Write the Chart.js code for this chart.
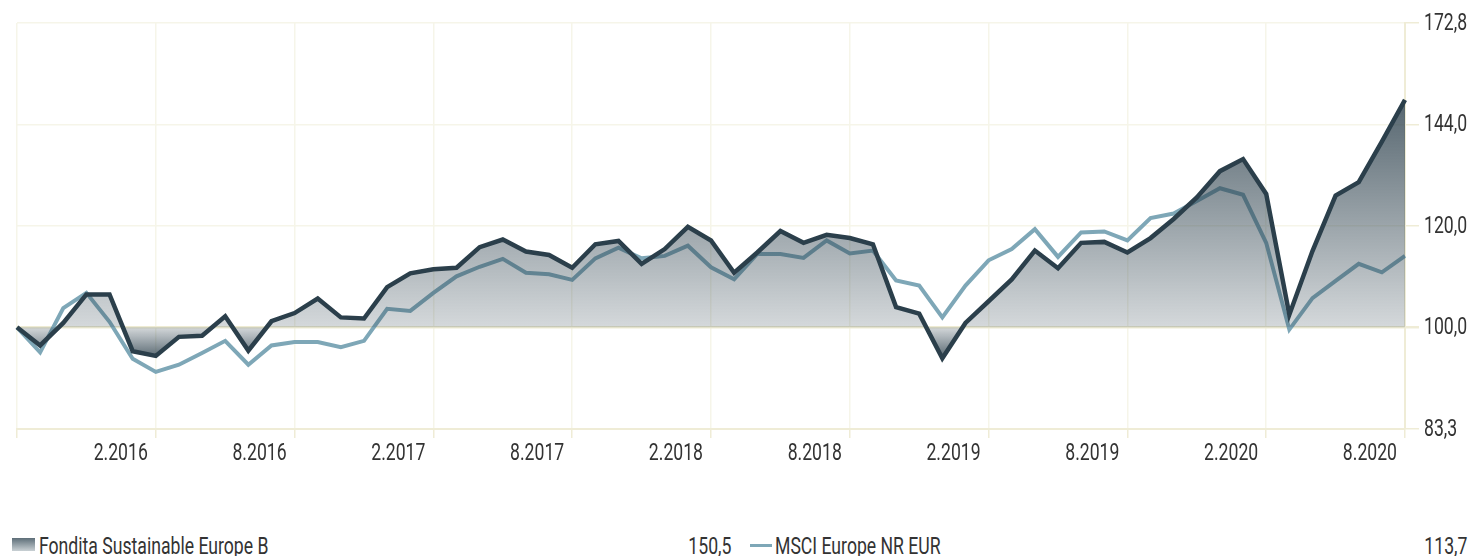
<!DOCTYPE html>
<html>
<head>
<meta charset="utf-8">
<script src="https://cdn.jsdelivr.net/npm/chart.js@4.4.0/dist/chart.umd.min.js"></script>
<style>
  body { margin: 0; background: #fff; }
  #wrap { position: absolute; left: 0; top: 0; width: 1469px; height: 470px; }
  .legend { position: absolute; top: 532px; height: 28px; font-family: Roboto, sans-serif; font-weight: 400; font-size: 23.5px; color: #333; line-height: 28px; white-space: nowrap; }
  .legend .sw { position: absolute; }
  .legend .name { position: absolute; transform: scaleX(0.75); transform-origin: left center; }
  .legend .val { position: absolute; transform: scaleX(0.75); transform-origin: right center; }
</style>
</head>
<body>
<div id="wrap"><canvas id="myChart"></canvas></div>
<div class="legend" id="leg1" style="left:0;width:731px">
  <div class="sw" style="left:12px;top:6px;width:23px;height:13px;background:linear-gradient(#5d6e78,#c9d0d4)"></div>
  <span class="name" style="left:39px"></span>
  <span class="val" style="right:0"></span>
</div>
<div class="legend" id="leg2" style="left:731px;width:736px">
  <div class="sw" style="left:19px;top:12px;width:22px;height:3px;background:#7ea7b7"></div>
  <span class="name" style="left:44px"></span>
  <span class="val" style="right:0"></span>
</div>
<script>
var months = ['8.2015','9.2015','10.2015','11.2015','12.2015','1.2016','2.2016','3.2016','4.2016','5.2016','6.2016','7.2016',
  '8.2016','9.2016','10.2016','11.2016','12.2016','1.2017','2.2017','3.2017','4.2017','5.2017','6.2017','7.2017',
  '8.2017','9.2017','10.2017','11.2017','12.2017','1.2018','2.2018','3.2018','4.2018','5.2018','6.2018','7.2018',
  '8.2018','9.2018','10.2018','11.2018','12.2018','1.2019','2.2019','3.2019','4.2019','5.2019','6.2019','7.2019',
  '8.2019','9.2019','10.2019','11.2019','12.2019','1.2020','2.2020','3.2020','4.2020','5.2020','6.2020','7.2020','8.2020'];

var fundName = 'Fondita Sustainable Europe B';
var fundValues = [100.0, 96.8, 100.8, 106.1, 106.1, 95.8, 95.0, 98.3, 98.5, 102.0, 95.9, 101.1,
  102.6, 105.3, 101.8, 101.6, 107.5, 110.2, 111.0, 111.3, 115.5, 117.1, 114.6, 113.9,
  111.3, 116.1, 116.8, 112.1, 115.1, 119.8, 116.9, 110.3, 114.4, 118.9, 116.4, 118.1,
  117.4, 116.1, 103.7, 102.5, 94.6, 100.8, 104.8, 109.0, 114.8, 111.2, 116.4, 116.6,
  114.4, 117.4, 121.5, 126.3, 132.4, 135.3, 127.1, 102.3, 114.7, 126.7, 129.8, 139.6, 150.5];

var benchName = 'MSCI Europe NR EUR';
var benchValues = [100.0, 95.6, 103.5, 106.4, 101.0, 94.5, 92.3, 93.5, 95.5, 97.6, 93.5, 96.8,
  97.4, 97.4, 96.5, 97.6, 103.4, 103.0, 106.4, 109.6, 111.5, 113.1, 110.3, 110.0,
  108.9, 113.2, 115.4, 113.2, 113.7, 115.8, 111.4, 109.0, 114.1, 114.1, 113.3, 116.9,
  114.2, 114.8, 108.8, 107.8, 101.8, 107.8, 112.8, 115.1, 119.3, 113.5, 118.6, 118.8,
  116.9, 121.7, 122.7, 125.5, 128.4, 126.9, 116.4, 99.6, 105.4, 108.7, 112.1, 110.4, 113.7];

var yTicks = [83.3, 100.0, 120.0, 144.0, 172.8];
var baseValue = 100;
var labelEvery = 6;

function fmt(v) { return v.toFixed(1).replace('.', ','); }

function fundFill(c) {
  var chart = c.chart;
  if (!chart.chartArea) return 'rgba(43,63,75,0.3)';
  var y = chart.scales.y;
  var top = y.getPixelForValue(Math.max.apply(null, fundValues));
  var base = y.getPixelForValue(baseValue);
  var bot = y.getPixelForValue(Math.min.apply(null, fundValues));
  var g = chart.ctx.createLinearGradient(0, top, 0, bot);
  var p = (base - top) / (bot - top);
  g.addColorStop(0, 'rgba(43,63,75,0.8)');
  g.addColorStop(p, 'rgba(43,63,75,0.2)');
  g.addColorStop(1, 'rgba(43,63,75,0.8)');
  return g;
}

// tick labels drawn narrow (condensed look) at the scales' own tick positions
var narrowLabels = {
  id: 'narrowLabels',
  afterDraw: function (chart) {
    var c = chart.ctx;
    var xs = chart.scales.x, ys = chart.scales.y;
    c.save();
    c.fillStyle = '#333';
    c.font = '400 23.5px Roboto, sans-serif';
    c.textBaseline = 'alphabetic';
    c.textAlign = 'right';
    xs.ticks.forEach(function (t, i) {
      if (!t.label) return;
      c.save();
      c.translate(xs.getPixelForTick(i) - 8, xs.top + 31);
      c.scale(0.75, 1);
      c.fillText(t.label, 0, 0);
      c.restore();
    });
    c.textAlign = 'left';
    ys.ticks.forEach(function (t, i) {
      c.save();
      c.translate(ys.left + 19, ys.getPixelForTick(i) + 7);
      c.scale(0.75, 1);
      c.fillText(t.label, 0, 0);
      c.restore();
    });
    c.restore();
  }
};

var ctx = document.getElementById('myChart').getContext('2d');
var myChart = new Chart(ctx, {
  type: 'line',
  data: {
    labels: months,
    datasets: [{
      label: fundName,
      data: fundValues,
      borderColor: '#2b3f4b',
      borderWidth: 4.5,
      backgroundColor: fundFill,
      fill: { value: baseValue },
      pointRadius: 0,
      tension: 0
    }, {
      label: benchName,
      data: benchValues,
      borderColor: '#7ea7b7',
      borderWidth: 4,
      fill: false,
      pointRadius: 0,
      tension: 0
    }]
  },
  options: {
    responsive: true,
    maintainAspectRatio: false,
    animation: false,
    layout: { padding: { left: 17, top: 23, right: 0, bottom: 0 } },
    plugins: {
      legend: { display: false },
      tooltip: { enabled: false }
    },
    scales: {
      x: {
        afterFit: function (s) { s.height = 41; },
        grid: {
          color: function (c) { return c.index % labelEvery === 0 ? '#f6f5e9' : 'rgba(0,0,0,0)'; },
          tickColor: function (c) { return c.index % labelEvery === 0 ? '#efecd6' : 'rgba(0,0,0,0)'; },
          tickLength: 9,
          lineWidth: 1.5
        },
        border: { color: '#efecd6', width: 2 },
        ticks: {
          display: false,
          autoSkip: false,
          maxRotation: 0,
          callback: function (v, i) {
            return (i % labelEvery === 0 && i > 0) ? months[i] : '';
          }
        }
      },
      y: {
        type: 'logarithmic',
        position: 'right',
        min: yTicks[0],
        max: yTicks[yTicks.length - 1],
        afterFit: function (s) { s.width = 64; },
        afterBuildTicks: function (s) {
          s.ticks = yTicks.map(function (v) { return { value: v }; });
        },
        grid: {
          color: function (c) { return c.tick && c.tick.value === baseValue ? '#eeebd3' : '#f6f5e9'; },
          lineWidth: function (c) { return c.tick && c.tick.value === baseValue ? 2.5 : 1.5; },
          tickColor: '#efecd6',
          tickLength: 14
        },
        border: { color: '#efecd6', width: 2 },
        ticks: {
          display: false,
          callback: function (v) { return fmt(v); }
        }
      }
    }
  },
  plugins: [narrowLabels]
});

var leg1 = document.getElementById('leg1');
leg1.querySelector('.name').textContent = fundName;
leg1.querySelector('.val').textContent = fmt(fundValues[fundValues.length - 1]);
var leg2 = document.getElementById('leg2');
leg2.querySelector('.name').textContent = benchName;
leg2.querySelector('.val').textContent = fmt(benchValues[benchValues.length - 1]);
</script>
</body>
</html>
